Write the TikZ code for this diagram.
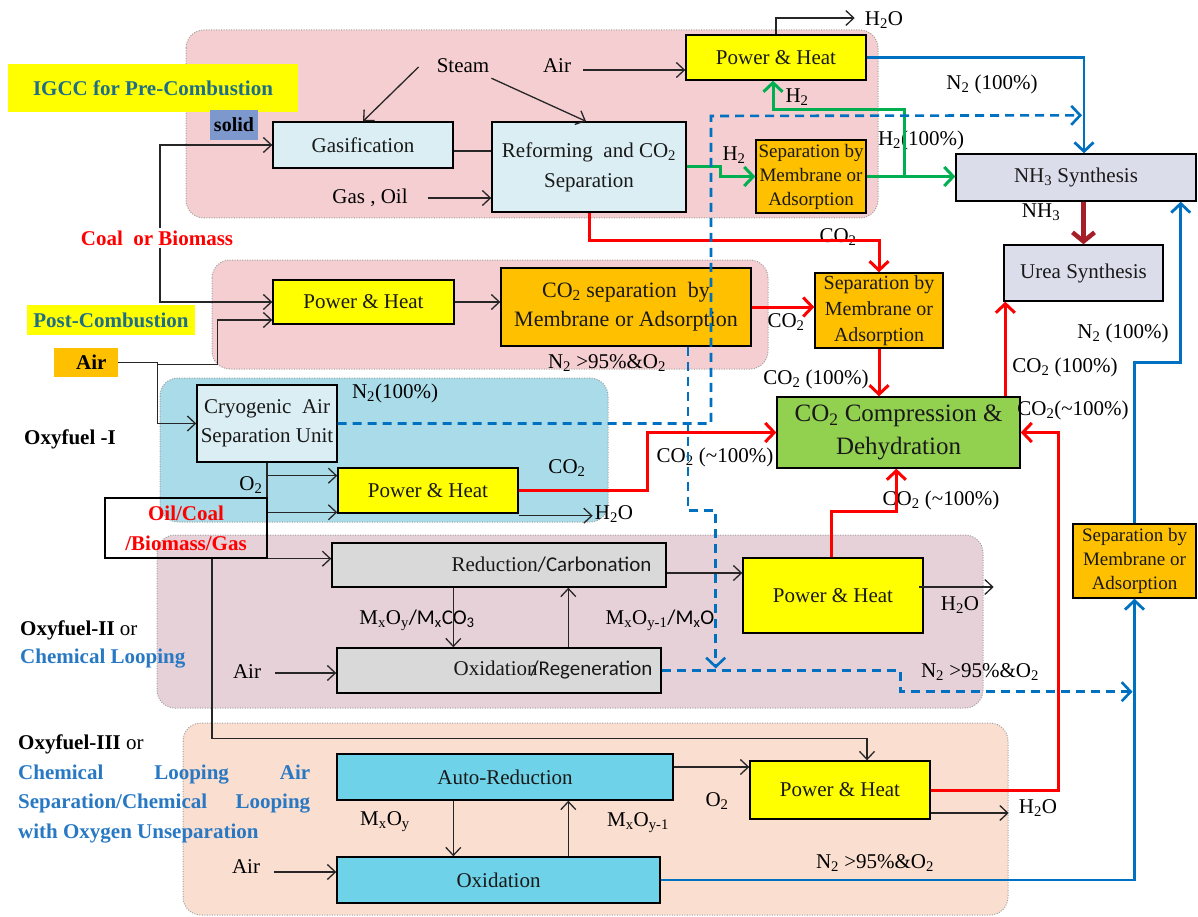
\documentclass[tikz,border=0pt]{standalone}
\usepackage{fontspec}
\setmainfont{Liberation Serif}
\newfontfamily\sansc{Carlito}
\usetikzlibrary{arrows.meta,calc}
\newcommand\fs[2]{\fontsize{#1}{#2}\selectfont}
\newcommand\sbs[1]{\textsubscript{#1}}

\definecolor{igccpink}{RGB}{244,206,208}
\definecolor{oxyblue}{RGB}{170,219,232}
\definecolor{mauve}{RGB}{231,209,216}
\definecolor{peach}{RGB}{250,222,207}
\definecolor{paleblue}{RGB}{218,238,243}
\definecolor{pyellow}{RGB}{255,255,0}
\definecolor{porange}{RGB}{255,192,0}
\definecolor{lav}{RGB}{220,221,235}
\definecolor{pgreen}{RGB}{146,208,80}
\definecolor{pgray}{RGB}{217,217,217}
\definecolor{pcyan}{RGB}{110,210,232}
\definecolor{flowred}{RGB}{255,0,0}
\definecolor{flowblue}{RGB}{0,112,192}
\definecolor{flowgreen}{RGB}{0,176,80}
\definecolor{nhred}{RGB}{165,30,40}
\definecolor{titleteal}{RGB}{30,110,135}
\definecolor{loopblue}{RGB}{40,120,195}
\definecolor{solidbg}{RGB}{125,152,205}

\tikzset{
  region/.style={draw=gray!75, line width=1pt, dash pattern=on 1pt off 1.5pt, rounded corners=18pt},
  box/.style={draw=black, line width=1.4pt, align=center, inner sep=0pt, text=black!90},
  lbl/.style={inner sep=2pt, align=center},
  ttl/.style={font=\fs{21}{25}\bfseries, text=titleteal, inner sep=0pt},
  ln/.style={draw=black!85, line width=1.3pt},
  arr/.style={ln, -{Straight Barb[length=8pt,width=15pt]}},
  rarr/.style={draw=flowred, line width=3pt, -{Straight Barb[length=9pt,width=19pt]}},
  barr/.style={draw=flowblue, line width=2.8pt, -{Straight Barb[length=9pt,width=19pt]}},
  bdash/.style={draw=flowblue, line width=2.6pt, dash pattern=on 9pt off 6pt, -{Straight Barb[length=9pt,width=19pt]}},
  garr/.style={draw=flowgreen, line width=3pt, -{Straight Barb[length=9pt,width=19pt]}},
  nharr/.style={draw=nhred, line width=4.5pt, -{Straight Barb[length=9pt,width=22pt]}},
}

\begin{document}
\begin{tikzpicture}[x=1pt, y=-1pt, font=\fs{21}{25}]
\useasboundingbox (0,0) rectangle (1198,917);

% process areas
\draw[region, fill=igccpink] (186,30) rectangle (878,218);
\draw[region, fill=igccpink] (212,260) rectangle (768,369);
\draw[region, fill=oxyblue] (160,378) rectangle (608,522);
\draw[region, fill=mauve] (157,535) rectangle (983,708);
\draw[region, fill=peach] (183,723) rectangle (1008,915);

% process units
\node[box, fill=paleblue, minimum width=180pt, minimum height=46pt] (gas) at (363,145) {Gasification};
\node[box, fill=paleblue, minimum width=194pt, minimum height=90pt, font=\fs{21}{30}] (reform) at (589,167) {Reforming~ and CO\sbs{2}\\Separation};
\node[box, fill=pyellow, minimum width=180pt, minimum height=45pt] (phTop) at (776,57.5) {Power \& Heat};
\node[box, fill=porange, minimum width=110pt, minimum height=73pt, font=\fs{19}{24}] (sepTop) at (811,176.5) {Separation by\\Membrane or\\Adsorption};
\node[box, fill=lav, minimum width=240pt, minimum height=47pt] (nh3) at (1076,177.5) {NH\sbs{3} Synthesis};
\node[box, fill=lav, minimum width=159pt, minimum height=56pt] (urea) at (1083.5,273) {Urea Synthesis};
\node[box, fill=porange, minimum width=128pt, minimum height=75pt, font=\fs{20}{26}] (sepMid) at (879,310.5) {Separation by\\Membrane or\\Adsorption};
\node[box, fill=pgreen, minimum width=243pt, minimum height=71pt, font=\fs{25}{33}] (comp) at (898.5,432.5) {CO\sbs{2} Compression \&\\Dehydration};
\node[box, fill=pyellow, minimum width=181pt, minimum height=44pt] (phPost) at (363.5,302) {Power \& Heat};
\node[box, fill=porange, minimum width=250pt, minimum height=78pt, font=\fs{22}{29}] (co2sep) at (626,307) {CO\sbs{2} separation~ by\\Membrane or Adsorption};
\node[box, fill=paleblue, minimum width=140pt, minimum height=77pt, font=\fs{21}{29}] (asu) at (267,423.5) {Cryogenic~ Air\\Separation Unit};
\node[box, fill=pyellow, minimum width=180pt, minimum height=45pt] (ph1) at (428,490.5) {Power \& Heat};
\node[box, minimum width=162pt, minimum height=60pt, text=flowred, font=\fs{21}{30}\bfseries] (fuel) at (186,528) {Oil/Coal\\/Biomass/Gas};
\node[box, fill=pgray, minimum width=334pt, minimum height=44pt] (redc) at (499,565) {\hspace*{105pt}Reduction{\sansc/Carbonation}};
\node[box, fill=pgray, minimum width=324pt, minimum height=45pt] (oxreg) at (499,670.5) {\hspace*{108pt}Oxidation\kern-7pt{\sansc/Regeneration}};
\node[box, fill=pyellow, minimum width=180pt, minimum height=75pt] (ph2) at (833,595.5) {Power \& Heat};
\node[box, fill=porange, minimum width=123pt, minimum height=74pt, font=\fs{19}{24}] (sepR) at (1134.5,561) {Separation by\\Membrane or\\Adsorption};
\node[box, fill=pcyan, minimum width=336pt, minimum height=46pt] (auto) at (505,777) {Auto-Reduction};
\node[box, fill=pcyan, minimum width=323pt, minimum height=46pt] (oxid) at (498.5,880) {Oxidation};
\node[box, fill=pyellow, minimum width=180pt, minimum height=58pt] (ph3) at (840,790) {Power \& Heat};

% headings and feed tags
\node[ttl, fill=pyellow, minimum width=290pt, minimum height=48pt] (igcc) at (153,88) {IGCC for Pre-Combustion};
\node[lbl, fill=solidbg, font=\fs{20}{24}\bfseries, minimum width=48pt, minimum height=30pt, inner sep=0pt] (solid) at (234,125) {solid};
\node[lbl, text=flowred, font=\fs{21}{25}\bfseries] (coal) at (157,238) {Coal~ or Biomass};
\node[ttl, fill=pyellow, minimum width=168pt, minimum height=30pt] (post) at (111,320) {Post-Combustion};
\node[lbl, fill=porange, font=\fs{21}{25}\bfseries, minimum width=64pt, minimum height=29pt, inner sep=0pt] (airO) at (86,362.5) {~~Air};
\node[lbl, font=\fs{21}{25}\bfseries] (oxyI) at (70,439) {Oxyfuel -I};
\node[lbl, anchor=west, align=left, font=\fs{21}{28}] (oxyII) at (18,644) {{\bfseries Oxyfuel-II} or\\\textcolor{loopblue}{\bfseries Chemical Looping}};
\node[lbl, anchor=north west, align=left, inner sep=0pt, font=\fs{21}{29.5}] (oxyIII) at (18,735) {{\bfseries Oxyfuel-III} or\\\textcolor{loopblue}{\bfseries\makebox[292pt][s]{Chemical Looping Air}}\\\textcolor{loopblue}{\bfseries\makebox[292pt][s]{Separation/Chemical Looping}}\\\textcolor{loopblue}{\bfseries with Oxygen Unseparation}};

% stream labels
\node[lbl] (steam) at (463,66) {Steam};
\node[lbl] (airT) at (557,66) {Air};
\node[lbl] (gasoil) at (370,198) {Gas , Oil};
\node[lbl] (h2oT) at (884,20) {H\sbs{2}O};
\node[lbl] (n2top) at (992,84) {N\sbs{2} (100\%)};
\node[lbl] (h2a) at (797,97) {H\sbs{2}};
\node[lbl] (h2full) at (921,140) {H\sbs{2}(100\%)};
\node[lbl] (h2b) at (734,155) {H\sbs{2}};
\node[lbl] (nh3l) at (1041,212) {NH\sbs{3}};
\node[lbl] (co2a) at (838,237) {CO\sbs{2}};
\node[lbl] (co2b) at (786,322) {CO\sbs{2}};
\node[lbl] (n2post) at (607,363) {N\sbs{2} >95\%\&O\sbs{2}};
\node[lbl] (co2c) at (816,379) {CO\sbs{2} (100\%)};
\node[lbl] (co2d) at (1065,367) {CO\sbs{2} (100\%)};
\node[lbl] (n2e) at (1123,333) {N\sbs{2} (100\%)};
\node[lbl] (co2f) at (1073,410) {CO\sbs{2}(\textasciitilde100\%)};
\node[lbl] (n2asu) at (395,393) {N\sbs{2}(100\%)};
\node[lbl] (co2g) at (715,457) {CO\sbs{2} (\textasciitilde100\%)};
\node[lbl] (co2h) at (567,468) {CO\sbs{2}};
\node[lbl] (o2a) at (251,485) {O\sbs{2}};
\node[lbl] (h2o1) at (614,514) {H\sbs{2}O};
\node[lbl] (co2i) at (941,500) {CO\sbs{2} (\textasciitilde100\%)};
\node[lbl] (mxa) at (417,620) {M\sbs{x}O\sbs{y}{\sansc/M\sbs{x}CO\sbs{3}}};
\node[lbl] (mxb) at (660,620) {M\sbs{x}O\sbs{y-1}{\sansc/M\sbs{x}O}};
\node[lbl] (h2o2) at (960,605) {H\sbs{2}O};
\node[lbl] (n2ii) at (980,672) {N\sbs{2} >95\%\&O\sbs{2}};
\node[lbl] (airII) at (247,672) {Air};
\node[lbl] (mxc) at (385,822) {M\sbs{x}O\sbs{y}};
\node[lbl] (mxd) at (638,823) {M\sbs{x}O\sbs{y-1}};
\node[lbl] (o2b) at (717,801) {O\sbs{2}};
\node[lbl] (h2o3) at (1038,808) {H\sbs{2}O};
\node[lbl] (n2iii) at (875,863) {N\sbs{2} >95\%\&O\sbs{2}};
\node[lbl] (airIII) at (246,867) {Air};

% ---- IGCC streams
\draw[arr] ($(steam.west)+(-16,1)$) -- (gas.north);
\draw[arr] ($(steam.south east)+(0,3)$) -- ($(reform.north)+(-3,0)$);
\coordinate (airTin) at ($(airT.east)+(10,4)$);
\draw[arr] (airTin) -- (airTin -| phTop.west);
\coordinate (gasOut) at ([yshift=-6pt]gas.east);
\draw[ln] (gasOut) -- (gasOut -| reform.west);
\coordinate (goIn) at ($(gasoil.east)+(18,0)$);
\draw[arr] (goIn) -- (goIn -| reform.west);
\draw[arr] (phTop.north) |- ($(h2oT.west)+(-8,-2)$);
\draw[barr] (phTop.east) -| ($(nh3.north)+(8,0)$);
\draw[garr] (reform.east) -- ++(34,0) |- (sepTop.west);
\draw[garr] (sepTop.east) -- (sepTop.east -| nh3.west);
\draw[garr] ($(sepTop.east)+(38,0)$) |- ($(phTop.south)+(-3,29)$) -- ($(phTop.south)+(-3,0)$);
\draw[rarr] (reform.south) -- ++(0,28) -| (sepMid.north);
\draw[nharr] (nh3.south -| urea.north) -- (urea.north);

% ---- feeds
\draw[arr] ($(coal.north)+(3,0)$) |- (gas.west);
\draw[arr] ($(coal.south)+(3,0)$) |- (phPost.west);
\draw[arr] (airO.east) -- ++(39,0) |- (asu.west);
\coordinate (airBr) at ($(airO.east)+(39,2)$);
\draw[arr] (airBr) -- ++(60,0) |- ($(phPost.west)+(0,18)$);

% ---- post-combustion
\draw[arr] (phPost.east) -- (phPost.east -| co2sep.west);
\draw[rarr] (co2sep.east) -- (co2sep.east -| sepMid.west);
\draw[rarr] (sepMid.south) -- (sepMid.south |- comp.north);
\coordinate (ureaIn) at ($(urea.south west)+(2,0)$);
\draw[rarr] (ureaIn |- comp.north) -- (ureaIn);

% ---- nitrogen (dashed)
\coordinate (dashUp) at (711,116);
\coordinate (n2join) at ($(nh3.north)+(6,-38)$);
\draw[bdash] (asu.east) -| (dashUp) -- (n2join);
\coordinate (dsA) at ($(co2sep.south)+(62,0)$);
\coordinate (n2mid) at ($(oxreg.east)+(54,-2)$);
\draw[bdash] (dsA) -- ++(0,164) -| (n2mid);
\coordinate (n2right) at ($(sepR.south)+(-2,93)$);
\draw[bdash] (oxreg.east) -- ++(239,0) |- (n2right);

% ---- oxyfuel I
\draw[rarr] (ph1.east) -- ++(129,0) |- (comp.west);
\coordinate (ph1Out) at ([yshift=-2pt]ph1.south east);
\draw[arr] (ph1Out) -- (ph1Out -| h2o1.west);
\draw[ln] (asu.south) -- (asu.south |- fuel.north);
\coordinate (o2br) at ($(asu.south)+(0,13)$);
\draw[arr] (o2br) -- (o2br -| ph1.west);
\coordinate (fuelA) at ($(fuel.north east)+(0,15)$);
\draw[arr] (fuelA) -- (fuelA -| ph1.west);

% ---- oxyfuel II
\draw[arr] (fuel.south east) -- (fuel.south east -| redc.west);
\coordinate (fuelB) at ($(fuel.south)+(26,0)$);
\coordinate (ph3In) at ($(ph3.north)+(27,0)$);
\draw[arr] (fuelB) |- ($(ph3In)+(0,-22)$) -- (ph3In);
\coordinate (redOut) at ([yshift=-8pt]redc.east);
\draw[arr] (redOut) -- (redOut -| ph2.west);
\draw[arr] ($(redc.south west)+(122,0)$) -- ($(oxreg.north west)+(117,0)$);
\draw[arr] ($(oxreg.north west)+(232,0)$) -- ($(redc.south west)+(237,0)$);
\coordinate (airIIin) at ($(airII.east)+(12,1)$);
\draw[arr] (airIIin) -- (airIIin -| oxreg.west);
\draw[rarr] ($(ph2.north west)+(89,0)$) -- ++(0,-46) -| ($(comp.south west)+(120,0)$);
\coordinate (ph2Out) at ([xshift=-5pt,yshift=8.5pt]ph2.east);
\coordinate (h2o2end) at ($(ph2Out)+(75,0)$);
\draw[arr] (ph2Out) -- (h2o2end);

% ---- oxyfuel III
\coordinate (autoOut) at ([yshift=10pt]auto.east);
\draw[arr] (autoOut) -- (autoOut -| ph3.west);
\draw[arr] ($(auto.south west)+(117,0)$) -- ($(oxid.north west)+(117,0)$);
\draw[arr] ($(oxid.north west)+(232,0)$) -- ($(auto.south west)+(232,0)$);
\coordinate (airIIIin) at ($(airIII.east)+(12,5)$);
\draw[arr] (airIIIin) -- (airIIIin -| oxid.west);
\draw[rarr] (ph3.east) -- ++(128,0) |- (comp.east);
\coordinate (ph3Out) at ([yshift=-23pt]ph3.east);
\coordinate (h2o3end) at ($(h2o3.west)+(-8,0)$);
\draw[arr] (ph3Out) -- (ph3Out -| h2o3end);
\draw[barr] (oxid.east) -| (sepR.south);
\draw[barr] (sepR.north) -- ++(0,-161) -| ($(nh3.south east)+(-16,0)$);
\end{tikzpicture}
\end{document}
